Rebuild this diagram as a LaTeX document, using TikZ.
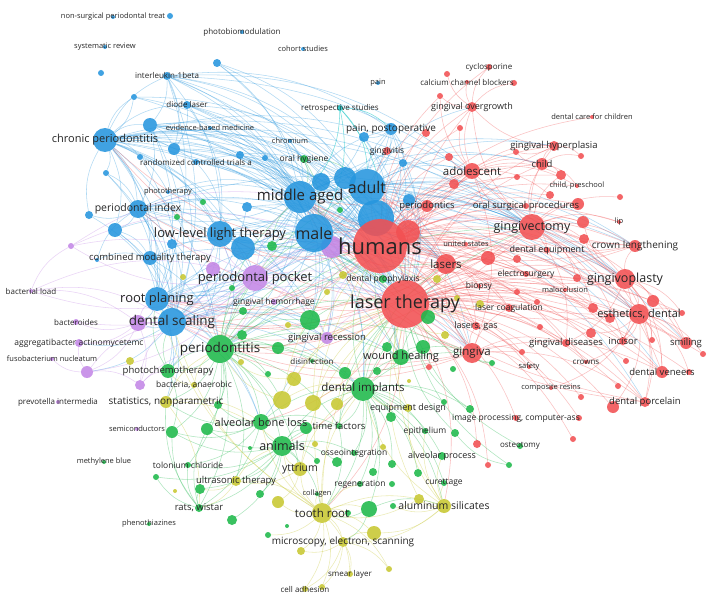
\documentclass[tikz,border=0pt]{standalone}
\usepackage{fontspec}
\setmainfont{Open Sans}
\pgfdeclarelayer{bg}
\pgfdeclarelayer{edg}
\pgfdeclarelayer{lab}
\pgfsetlayers{bg,edg,main,lab}
\definecolor{cB}{RGB}{38,150,222}
\definecolor{cR}{RGB}{242,80,82}
\definecolor{cG}{RGB}{30,185,75}
\definecolor{cY}{RGB}{200,200,50}
\definecolor{cP}{RGB}{195,135,230}
\definecolor{cC}{RGB}{30,200,200}
\tikzset{
  vdot/.style={circle,inner sep=0pt,draw=none,fill opacity=0.88},
  vlbl/.style={inner sep=0pt,text=black!85,text opacity=1},
  ebase/.style={line width=0.55pt,draw opacity=0.36},
  eB/.style={ebase,draw=cB},
  eR/.style={ebase,draw=cR},
  eG/.style={ebase,draw=cG},
  eY/.style={ebase,draw=cY},
  eP/.style={ebase,draw=cP},
  eC/.style={ebase,draw=cC,draw opacity=0.6},
}
\newcommand\vn[5]{\node[vdot,fill=#5,minimum size={2*#4}] (#1) at (#2,#3) {};}
\newcommand\vnl[7]{\vn{#1}{#2}{#3}{#4}{#5}\begin{pgfonlayer}{lab}\node[vlbl,font=\fontsize{#6}{#6}\selectfont] (#1t) at (#2,#3) {#7};\end{pgfonlayer}}
\newcommand\edg[3]{\foreach \tgt in {#3}{\draw[#1] (#2) to[bend left=20] (\tgt);}}
\begin{document}
\begin{tikzpicture}[x=1pt,y=-1pt]
\begin{pgfonlayer}{bg}
\fill[white] (0,0) rectangle (713,602);
\end{pgfonlayer}
\useasboundingbox (0,0) rectangle (713,602);
% ---------------- blue
\vnl{nst}{113}{17}{2}{cB}{7.5}{non-surgical periodontal treat}
\vn{b1}{170}{16}{3}{cB}
\vnl{pbm}{242}{32}{2}{cB}{8}{photobiomodulation}
\vnl{sr}{105}{47}{2}{cB}{7.5}{systematic review}
\vnl{coh}{303}{49}{2}{cB}{7.5}{cohort studies}
\vn{b2}{217}{63}{4}{cB}
\vn{b3}{101}{73}{3}{cB}
\vnl{il}{167}{76}{4}{cB}{8}{interleukin-1beta}
\vn{b4}{134}{97}{3}{cB}
\vnl{dl}{187}{105}{4}{cB}{8}{diode laser}
\vn{b5}{150}{125}{7}{cB}
\vnl{ebm}{210}{128}{2}{cB}{7.5}{evidence-based medicine}
\vnl{cp}{105}{140}{12}{cB}{11}{chronic periodontitis}
\vn{b6}{174}{149}{6}{cB}
\vnl{chr}{290}{141}{2}{cB}{7.5}{chromium}
\vn{b7}{140}{157}{3}{cB}
\vn{b8}{240}{155}{4}{cB}
\vn{b9}{265}{158}{3}{cB}
\vnl{rct}{196}{162}{3}{cB}{8}{randomized controlled trials a}
\vn{b10}{106}{173}{3}{cB}
\vnl{pht}{168}{192}{2}{cB}{7.5}{phototherapy}
\vn{b13}{364}{137}{5}{cB}
\vnl{pp}{391}{129}{6}{cB}{10}{pain, postoperative}
\vnl{pain}{378}{83}{2}{cB}{7.5}{pain}
\vnl{rs}{340}{108}{3}{cC}{8}{retrospective studies}
\vn{b14}{403}{163}{4}{cB}
\vnl{pi}{138}{209}{9}{cB}{10.5}{periodontal index}
\vn{b16}{89}{215}{4}{cB}
\vn{b17}{115}{230}{7}{cB}
\vn{b18}{247}{207}{5}{cB}
\vn{b19}{243}{248}{12}{cB}
\vnl{lllt}{220}{234}{13}{cB}{13}{low-level light therapy}
\vn{b20}{172}{244}{5}{cB}
\vnl{cmt}{150}{258}{7}{cB}{9.5}{combined modality therapy}
\vn{b25}{97}{260}{2}{cB}
\vnl{rp}{157}{299}{12}{cB}{13}{root planing}
\vnl{ds}{172}{322}{14}{cB}{13.5}{dental scaling}
\vn{b11}{321}{182}{9}{cB}
\vn{b12}{345}{178}{11}{cB}
\vnl{ma}{300}{197}{16}{cB}{15}{middle aged}
\vn{b21}{376}{218}{18}{cB}
\vn{b22}{409}{200}{6}{cB}
\vnl{ad}{367}{187}{18}{cB}{16}{adult}
% ---------------- purple
\vn{p1}{332}{247}{11}{cP}
\vnl{male}{314}{233}{19}{cB}{16}{male}
\vnl{ppk}{255}{278}{13}{cP}{13}{periodontal pocket}
\vn{p2}{213}{269}{7}{cP}
\vn{p3}{71}{246}{3}{cP}
\vnl{bl}{31}{291}{2}{cP}{8}{bacterial load}
\vnl{bac}{76}{322}{3}{cP}{8}{bacteroides}
\vn{p4}{138}{323}{8}{cP}
\vnl{aa}{79}{343}{4}{cP}{8.5}{aggregatibacter actinomycetemc}
\vnl{fn}{52}{359}{2}{cP}{7.5}{fusobacterium nucleatum}
\vn{p5}{87}{372}{6}{cP}
\vn{p6}{140}{385}{5}{cP}
\vnl{pvi}{58}{402}{2}{cP}{8}{prevotella intermedia}
\vnl{sc}{137}{429}{2}{cP}{7.5}{semiconductors}
\vnl{ghm}{274}{302}{3}{cP}{8.5}{gingival hemorrhage}
\vnl{gr}{327}{338}{6}{cP}{9.5}{gingival recession}
% ---------------- red
\vn{r1}{408}{232}{12}{cR}
\vnl{hum}{380}{246}{27}{cR}{22}{humans}
\vnl{lt}{405}{304}{24}{cR}{18}{laser therapy}
\vnl{per}{427}{206}{6}{cR}{9.5}{periodontics}
\vnl{osp}{526}{206}{3}{cR}{9.5}{oral surgical procedures}
\vn{rA}{578}{204}{6}{cR}
\vnl{gv}{532}{227}{13}{cR}{12.5}{gingivectomy}
\vn{r2}{583}{222}{6}{cR}
\vnl{lip}{619}{222}{2}{cR}{7.5}{lip}
\vn{r3}{584}{239}{5}{cR}
\vnl{cl}{635}{246}{6}{cR}{10}{crown lengthening}
\vnl{us}{466}{244}{2}{cR}{7.5}{united states}
\vn{r4}{488}{258}{7}{cR}
\vn{r5x}{517}{259}{4}{cR}
\vnl{de}{547}{250}{3}{cR}{9}{dental equipment}
\vnl{las}{446}{264}{10}{cR}{11.5}{lasers}
\vnl{es}{526}{274}{3}{cR}{8.5}{electrosurgery}
\vnl{gp}{625}{279}{10}{cR}{12.5}{gingivoplasty}
\vn{r6}{577}{278}{4}{cR}
\vn{r7}{653}{301}{6}{cR}
\vnl{bio}{479}{286}{2}{cR}{8.5}{biopsy}
\vnl{mal}{565}{290}{2}{cR}{7.5}{malocclusion}
\vn{r8}{517}{292}{3}{cR}
\vn{r9}{537}{302}{3}{cR}
\vnl{lc}{509}{308}{4}{cR}{8.5}{laser coagulation}
\vn{r10}{593}{308}{5}{cR}
\vnl{edn}{639}{314}{10}{cR}{11}{esthetics, dental}
\vn{r11}{610}{318}{5}{cR}
\vn{r12}{682}{313}{3}{cR}
\vnl{lg}{476}{326}{4}{cR}{9}{lasers, gas}
\vn{r13}{540}{327}{3}{cR}
\vn{r14}{591}{333}{5}{cR}
\vnl{gd}{566}{343}{4}{cR}{9.5}{gingival diseases}
\vnl{inc}{623}{341}{4}{cR}{9.5}{incisor}
\vn{r15}{652}{340}{3}{cR}
\vnl{sm}{686}{343}{6}{cR}{9.5}{smiling}
\vn{r16}{703}{354}{3}{cR}
\vnl{gin}{472}{353}{10}{cR}{11.5}{gingiva}
\vn{r17}{522}{352}{3}{cR}
\vnl{cro}{586}{362}{2}{cR}{8}{crowns}
\vnl{saf}{529}{367}{2}{cR}{7.5}{safety}
\vn{r18}{626}{361}{3}{cR}
\vnl{dv}{662}{372}{6}{cR}{9.5}{dental veneers}
\vn{r19}{689}{372}{3}{cR}
\vn{r20}{429}{367}{3}{cR}
\vnl{cr}{551}{388}{2}{cR}{7.5}{composite resins}
\vn{r21}{581}{397}{3}{cR}
\vn{r22}{618}{386}{3}{cR}
\vn{r23}{613}{407}{6}{cR}
\vnl{dp}{645}{402}{5}{cR}{9.5}{dental porcelain}
\vnl{ip}{516}{418}{3}{cR}{8.5}{image processing, computer-ass}
\vn{r24}{579}{418}{3}{cR}
\vn{r25}{477}{444}{4}{cR}
\vn{r26}{573}{439}{3}{cR}
\vn{r27}{488}{465}{3}{cR}
\vnl{cyc}{489}{67}{3}{cR}{8}{cyclosporine}
\vn{r28}{447}{74}{3}{cR}
\vnl{ccb}{467}{82}{2}{cR}{8}{calcium channel blockers}
\vn{r29}{514}{83}{3}{cR}
\vn{r30}{440}{96}{3}{cR}
\vnl{go}{472}{107}{5}{cR}{9}{gingival overgrowth}
\vnl{dcc}{592}{117}{2}{cR}{7.5}{dental care for children}
\vn{r31}{460}{128}{3}{cR}
\vn{r32}{426}{133}{4}{cR}
\vnl{gvt}{387}{151}{4}{cR}{8.5}{gingivitis}
\vnl{gh}{554}{146}{5}{cR}{9.5}{gingival hyperplasia}
\vn{r33}{516}{152}{3}{cR}
\vn{r34}{581}{156}{3}{cR}
\vn{r35}{449}{157}{4}{cR}
\vnl{ch}{542}{164}{6}{cR}{9.5}{child}
\vnl{ado}{472}{171}{8}{cR}{11.5}{adolescent}
\vn{r36}{561}{175}{5}{cR}
\vn{r37}{454}{184}{5}{cR}
\vn{r38}{517}{177}{3}{cR}
\vnl{chp}{577}{186}{2}{cR}{7.5}{child, preschool}
\vn{r39}{550}{195}{4}{cR}
\vn{r40}{620}{197}{3}{cR}
% ---------------- green
\vnl{oh}{304}{159}{4}{cG}{8.5}{oral hygiene}
\vn{g11}{272}{246}{5}{cG}
\vn{g12}{340}{210}{3}{cG}
\vn{g45}{203}{202}{3}{cG}
\vn{g46}{177}{217}{3}{cG}
\vnl{pdt}{220}{349}{14}{cG}{13.5}{periodontitis}
\vn{g5}{310}{320}{10}{cG}
\vn{g6}{242}{335}{5}{cG}
\vn{g7}{278}{348}{6}{cG}
\vn{g8}{243}{311}{4}{cG}
\vn{g8b}{232}{288}{3}{cG}
\vn{g9}{345}{373}{6}{cG}
\vn{g41}{387}{347}{5}{cG}
\vn{g42}{377}{371}{4}{cG}
\vn{g40}{423}{347}{7}{cG}
\vnl{wh}{401}{357}{8}{cG}{11}{wound healing}
\vn{g39}{428}{317}{7}{cG}
\vn{g1}{492}{363}{3}{cG}
\vn{g44}{453}{369}{3}{cG}
\vnl{dpx}{383}{279}{4}{cG}{8.5}{dental prophylaxis}
\vnl{dis}{312}{361}{2}{cG}{8}{disinfection}
\vn{g47}{268}{374}{3}{cG}
\vnl{pct}{168}{371}{7}{cG}{9.5}{photochemotherapy}
\vnl{di}{363}{389}{12}{cG}{11.5}{dental implants}
\vn{g29}{391}{417}{5}{cG}
\vnl{abl}{261}{422}{8}{cG}{11}{alveolar bone loss}
\vn{g13}{218}{405}{4}{cG}
\vn{g14}{207}{429}{6}{cG}
\vn{g15}{172}{432}{6}{cG}
\vn{g28}{306}{428}{6}{cG}
\vnl{tf}{339}{426}{3}{cG}{9.5}{time factors}
\vnl{ani}{282}{446}{10}{cG}{12.5}{animals}
\vn{g16}{250}{448}{2}{cG}
\vnl{tc}{188}{465}{3}{cG}{8.5}{tolonium chloride}
\vnl{mb}{104}{462}{2}{cG}{7.5}{methylene blue}
\vn{g17}{156}{477}{3}{cG}
\vn{g18}{200}{489}{5}{cG}
\vn{g19}{260}{494}{4}{cG}
\vnl{rw}{199}{508}{4}{cG}{9.5}{rats, wistar}
\vnl{phe}{149}{524}{2}{cG}{7.5}{phenothiazines}
\vn{g20}{232}{520}{5}{cG}
\vn{g21}{317}{461}{3}{cG}
\vn{g22}{337}{462}{5}{cG}
\vnl{osi}{354}{453}{3}{cG}{8.5}{osseointegration}
\vnl{reg}{360}{484}{3}{cG}{8.5}{regeneration}
\vnl{col}{317}{494}{2}{cG}{7.5}{collagen}
\vn{g23}{369}{509}{8}{cG}
\vn{g24}{348}{513}{3}{cG}
\vn{g25}{287}{526}{2}{cG}
\vn{g26}{268}{535}{3}{cG}
\vnl{epi}{425}{431}{3}{cG}{8.5}{epithelium}
\vn{g2}{470}{409}{4}{cG}
\vn{g3}{455}{433}{4}{cG}
\vn{g31}{444}{402}{3}{cG}
\vnl{ap}{442}{456}{4}{cG}{9}{alveolar process}
\vn{g33}{392}{464}{4}{cG}
\vn{g34}{373}{472}{4}{cG}
\vn{g35}{418}{473}{4}{cG}
\vn{g36}{392}{484}{3}{cG}
\vnl{cur}{444}{483}{3}{cG}{8.5}{curettage}
\vn{g37}{393}{506}{3}{cG}
\vnl{ost}{520}{446}{3}{cG}{8}{osteotomy}
\vn{g4}{509}{465}{3}{cG}
% ---------------- yellow
\vnl{ban}{194}{385}{3}{cY}{8.5}{bacteria, anaerobic}
\vnl{snp}{166}{402}{6}{cY}{10}{statistics, nonparametric}
\vnl{ust}{236}{481}{5}{cY}{9.5}{ultrasonic therapy}
\vn{y1}{175}{491}{2}{cY}
\vn{y2}{278}{502}{6}{cY}
\vnl{yt}{300}{469}{7}{cY}{10.5}{yttrium}
\vn{y4}{315}{444}{3}{cY}
\vn{y5}{383}{447}{3}{cY}
\vnl{tr}{322}{513}{10}{cY}{11.5}{tooth root}
\vn{y7}{374}{533}{7}{cY}
\vnl{mes}{343}{542}{5}{cY}{10}{microscopy, electron, scanning}
\vn{y8}{301}{551}{4}{cY}
\vnl{sml}{350}{574}{3}{cY}{8}{smear layer}
\vn{y9}{389}{569}{3}{cY}
\vnl{ca}{305}{589}{3}{cY}{8}{cell adhesion}
\vn{y10}{322}{587}{3}{cY}
\vn{y11}{282}{400}{9}{cY}
\vn{y12}{313}{403}{8}{cY}
\vn{y13}{337}{404}{6}{cY}
\vn{y21}{294}{379}{7}{cY}
\vnl{eqd}{408}{408}{4}{cY}{9}{equipment design}
\vnl{als}{444}{506}{7}{cY}{10.5}{aluminum silicates}
\vn{y15}{419}{499}{5}{cY}
\vn{y17}{445}{335}{4}{cY}
\vn{y18}{437}{279}{4}{cY}
\vn{y19}{457}{298}{3}{cY}
\vn{y20}{480}{304}{4}{cY}
\vn{y22}{183}{277}{3}{cY}
\vn{y23}{343}{275}{4}{cY}
\vn{y24}{327}{292}{3}{cY}
\vn{y25}{288}{325}{3}{cY}
\vn{y26}{241}{362}{3}{cY}
\vn{y27}{130}{361}{4}{cY}
\vn{y28}{409}{381}{2}{cY}
% ================= edges
\begin{pgfonlayer}{edg}
\edg{eB}{cp}{il,dl,b5,b6,rct,ma,ad,male,lllt,pi,cmt,rp,ds,b7,b10,b17,pht,hum,lt,pdt,ppk,b4,b8,b11,b12,b19,b21,g5,gv,las,gin,ado,gp}
\edg{eB}{il}{ma,ad,male,lllt,b5,hum,lt,rp,ds,b6,pp,b12,gv,ado}
\edg{eB}{b2}{ma,male,ad,hum}
\edg{eB}{b4}{ma,male,ad,cp}
\edg{eB}{b9}{male,hum,ma}
\edg{eB}{b18}{hum,lt,ds,male}
\edg{eB}{chr}{ma,male}
\edg{eB}{b25}{cmt,pi}
\edg{eB}{dl}{ma,male,ad,lllt,hum,lt,b6}
\edg{eB}{b5}{ma,ad,hum,male,rp,ds,lt,pi,b6,gv,las}
\edg{eB}{b6}{ma,male,hum,lt,ds}
\edg{eB}{ebm}{ma,male}
\edg{eB}{b8}{ma,male,hum,lt}
\edg{eB}{rct}{ma,male,ad,lllt,hum,lt}
\edg{eB}{b10}{rp,ds,pi}
\edg{eB}{b7}{ds,lllt}
\edg{eB}{pht}{lllt,ma}
\edg{eB}{ma}{ad,male,hum,lt,pi,rp,ds,ppk,lllt,pdt,gv,ado,las,gin,cl,gp,per,pp,gh,b11,b12,b19,p1,g5,gr,di,wh,edn,ch}
\edg{eB}{ad}{hum,lt,ado,gv,gp,per,ch,go,gh,pp,las,gin,edn,osp,cl,ds,rp,pdt,male,b12,gvt,r1,ppk,p1,dp,dv,sm}
\edg{eB}{male}{hum,lt,ppk,ds,rp,pdt,lllt,pi,gv,gp,las,gin,gr,p1,g5,b19,wh,di,abl,edn,cl}
\edg{eB}{b12}{hum,lt,male}
\edg{eB}{b11}{hum,lt}
\edg{eB}{pp}{ad,hum,lt,male,ma,b13,gvt,b14}
\edg{eB}{b13}{hum,lt,ma}
\edg{eB}{b14}{hum,lt,ad}
\edg{eB}{pi}{rp,ds,lllt,cmt,b16,b17,hum,lt,pdt,ppk,male,ma,gv,gin,las}
\edg{eB}{b16}{cp,ds}
\edg{eB}{b17}{rp,ds,cmt,lllt}
\edg{eB}{lllt}{hum,lt,pdt,ppk,ds,rp,male,b19,pct,gr,wh}
\edg{eB}{b19}{hum,lt,ds}
\edg{eB}{cmt}{rp,ds,lt,hum,pdt}
\edg{eB}{b20}{rp,ds,lt}
\edg{eB}{rp}{pdt,ppk,ds,hum,lt,g5,gr,p4,pct,abl,snp,di}
\edg{eB}{ds}{pdt,ppk,lt,hum,pct,aa,p5,p4,abl,gr,g5,di,snp,wh}
\edg{eB}{b21}{hum,lt,gv,las}
\edg{eB}{b22}{hum,lt,gv}
\edg{eC}{rs}{pp,ad,male,ma,hum}
\edg{eR}{hum}{gv,gp,edn,cl,ado,ch,gh,go,gin,las,per,osp,de,es,lc,lg,gd,inc,sm,dv,dp,cro,cyc,r30,r31,r32,r35,r37,gvt,r1,r4,r2,r3,rA,r5x,us,bio,r10,r11,r6,lip,dcc,chp,r36,r38,r39,lt,cp,pi,rp,ds,lllt}
\edg{eR}{lt}{gv,gp,edn,cl,ado,ch,gh,go,gin,las,per,de,es,lc,lg,gd,inc,sm,dv,dp,cro,saf,cr,r21,r22,r23,ip,r24,r25,r27,r26,r13,r14,r17,r18,r19,r16,r12,r7,r8,r9,r10,r11,mal,r20,r4,ds,rp,pdt,ppk,cp,pi,abl,ani,di,tr,als}
\edg{eR}{r1}{gv,gp,edn,ado,ma,male}
\edg{eR}{gv}{gp,cl,edn,ch,gh,go,lip,r2,r3,rA,de,ado,sm,dv,inc,gd,r6,r10,r40,r36,ma,male,ds,rp,pdt}
\edg{eR}{gp}{edn,cl,sm,dv,inc,r7,dp,gd,r2,r3,r12,r15,ma,male,ad}
\edg{eR}{edn}{sm,dv,dp,inc,cro,cr,r12,r16,r15,r14,r19,r23,ma,male,ad}
\edg{eR}{cl}{ma,male,ad,ado}
\edg{eR}{ado}{ch,gh,go,r37,r35,r31,r30,chp,r39,r36,gin,male,ma,ds}
\edg{eR}{ch}{gh,chp,r36,r33,r34}
\edg{eR}{gh}{go,r33,r34}
\edg{eR}{go}{r28,r29,cyc,ccb,r30}
\edg{eR}{gin}{gd,las,lg,r17,saf,lc,ds,rp,pdt,male,ma,dp,dv}
\edg{eR}{las}{lg,lc,bio,es,de,r4,ds,rp,male,ma,pdt}
\edg{eR}{per}{r1,ad,hum}
\edg{eR}{dp}{ma,male}
\edg{eG}{pdt}{abl,ani,di,wh,g5,pct,snp,g14,g15,tc,rw,ust,lt,hum,g6,g7,g8,ppk,g9,g13,tf,y11,yt,dis,g47,y26,gv,las,gin,male,ma,ad}
\edg{eG}{ani}{abl,rw,tc,tr,yt,di,g18,g20,ust,g19,g14,g15,g17,g28,tf,osi,g21,g22}
\edg{eG}{abl}{di,rw,tc,g14,g15,g13,snp,tf,g28}
\edg{eG}{di}{wh,tr,als,epi,ap,eqd,lt,hum,g29,osi,tf,g33,g34,g35,reg,g23,cur,g31,g2,gin,las,gv}
\edg{eG}{wh}{lt,hum,g40,g41,g42,gin,g39}
\edg{eG}{rw}{tc,g17,g18,snp,g15,g14}
\edg{eG}{g5}{lt,hum,g7,y25}
\edg{eG}{g23}{tr,als,mes}
\edg{eG}{g39}{lt,hum}
\edg{eG}{oh}{ma,ad,male}
\edg{eG}{g11}{male,ma,lt}
\edg{eG}{tf}{lt,di,tr}
\edg{eG}{pct}{ds,rp,pdt,g15}
\edg{eG}{g4}{lt,g3}
\edg{eG}{ost}{lt}
\edg{eG}{g3}{lt}
\edg{eG}{g2}{lt}
\edg{eG}{g1}{lt,gin}
\edg{eG}{dpx}{hum,lt}
\edg{eY}{tr}{als,mes,yt,ca,sml,di,lt,ani,abl,y2,y7,g23,y8,y10,col,reg,y9,g24,g26,hum,ds,rp}
\edg{eY}{als}{mes,lt,di,cur,ap,y15,epi,eqd,y7,g37}
\edg{eY}{mes}{ca,sml,y7,y8,y9,y10}
\edg{eY}{yt}{lt,ani,ust,di,y2}
\edg{eY}{y11}{lt,hum,pdt,di}
\edg{eY}{y12}{lt,hum,di}
\edg{eY}{y13}{lt,di}
\edg{eY}{y21}{lt,pdt}
\edg{eY}{ust}{rw,g18,ani,tr}
\edg{eY}{snp}{pdt,abl,ani,rw}
\edg{eY}{ban}{pdt,pct}
\edg{eY}{y17}{lt}
\edg{eY}{y18}{hum}
\edg{eY}{y19}{lt}
\edg{eY}{y20}{lt}
\edg{eY}{eqd}{lt,di}
\edg{eY}{y15}{lt,tr}
\edg{eP}{ppk}{hum,lt,ds,rp,male,ma,p4,bac,aa,p5,bl,p3,gr,g5,p1,p2,pdt,lllt,gv,gin,las}
\edg{eP}{p4}{aa,bac,p5,p6,ds,rp,pdt}
\edg{eP}{gr}{lt,hum,g5}
\edg{eP}{bl}{p3,ppk,ds,p4}
\edg{eP}{p3}{ma,male,ppk}
\edg{eP}{p5}{aa,fn,ds,p6}
\edg{eP}{p6}{ds,pdt,pct}
\edg{eP}{p1}{lt,hum,male}
\edg{eP}{p2}{ds,rp,lllt}
\edg{eP}{ghm}{lt,hum}
\end{pgfonlayer}
\end{tikzpicture}
\end{document}
